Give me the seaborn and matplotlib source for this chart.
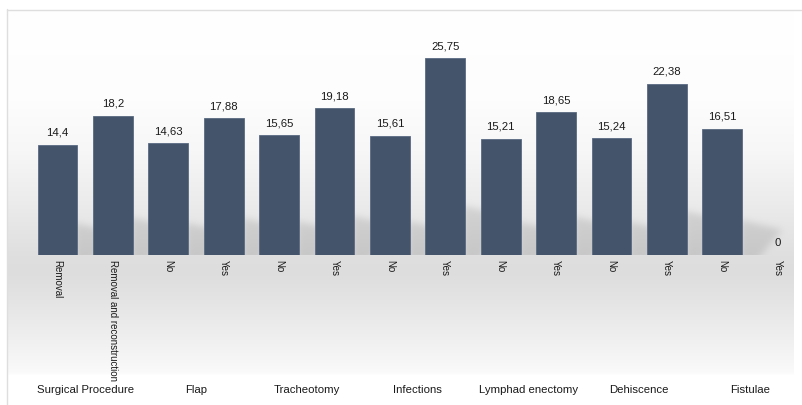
import numpy as np
import pandas as pd
import matplotlib
matplotlib.use("Agg")
import matplotlib.pyplot as plt
from matplotlib.path import Path
import seaborn as sns

groups = ["Surgical Procedure", "Flap", "Tracheotomy", "Infections",
          "Lymphad enectomy", "Dehiscence", "Fistulae"]
sub_labels = ["Removal", "Removal and reconstruction", "No", "Yes", "No", "Yes",
              "No", "Yes", "No", "Yes", "No", "Yes", "No", "Yes"]
values = [14.4, 18.2, 14.63, 17.88, 15.65, 19.18, 15.61, 25.75,
          15.21, 18.65, 15.24, 22.38, 16.51, 0]
value_text = ["14,4", "18,2", "14,63", "17,88", "15,65", "19,18", "15,61", "25,75",
              "15,21", "18,65", "15,24", "22,38", "16,51", "0"]

sns.set_theme(style="white")
plt.rcParams["font.family"] = ["Liberation Sans", "DejaVu Sans"]

W, H = 803, 405
fig = plt.figure(figsize=(W / 100, H / 100), dpi=100)
fig.patch.set_facecolor("white")

base_px = 150  # baseline from bottom
top_px = 396
ax = fig.add_axes([0, base_px / H, 1, (top_px - base_px) / H])
ax.set_zorder(2)
ax.patch.set_alpha(0)

keys = [f"{i:02d}" for i in range(len(values))]
df = pd.DataFrame({"key": keys, "value": values})
sns.barplot(data=df, x="key", y="value", color="#44546A", width=0.72,
            saturation=1, edgecolor="#5a6a82", linewidth=0.6, ax=ax)

slot = 55.4
ax.set_xlim(-57.5 / slot, (W - 57.5) / slot)
ax.set_ylim(0, (top_px - base_px) / 7.65)
for s in ax.spines.values():
    s.set_visible(False)
ax.set_yticks([])
ax.set_xlabel("")
ax.set_ylabel("")
ax.set_xticks(range(len(values)))
ax.set_xticklabels(sub_labels, rotation=-90, fontsize=7.0, color="#1a1a1a",
                   va="top", ha="center")
ax.tick_params(axis="x", length=0, pad=3.5)

for i, (v, t) in enumerate(zip(values, value_text)):
    ax.annotate(t, (i, v), xytext=(0, 5), textcoords="offset points",
                ha="center", va="bottom", fontsize=8.2, color="#1a1a1a")

for g, name in enumerate(groups):
    ax.text(2 * g + 0.5, -(390 - 255) / 7.65, name, ha="center", va="center",
            fontsize=8.2, color="#1a1a1a", clip_on=False)

# background gradient + shadows (pixel image)
rows = np.arange(H)
cp_y = [9, 100, 150, 200, 255, 272, 300, 340, 372, 375]
cp_v = [255, 253, 247, 236, 223, 221, 228, 240, 250, 255]
prof = np.interp(rows, cp_y, cp_v)
img = np.full((H, W), 255.0)
img[9:376, 7:794] = prof[9:376, None]

yy, xx = np.mgrid[0:H, 0:W]
pts = np.column_stack([xx.ravel() + 0.5, yy.ravel() + 0.5])
mask = np.zeros(H * W)
fig.canvas.draw()
rb = None
for i, v in enumerate(values):
    if v <= 0:
        continue
    xr, yb = ax.transData.transform((i + 0.36, 0))
    _, yt = ax.transData.transform((i + 0.36, v))
    rb = H - yb
    hpx = yt - yb
    sh = 0.2 * hpx + 10
    poly = Path([(xr - 2, rb + 6), (xr - 2, rb - sh), (xr + 40, rb - sh + 10),
                 (xr + 14, rb + 6), (xr - 2, rb + 6)])
    mask = np.maximum(mask, poly.contains_points(pts).astype(float))
mask = mask.reshape(H, W)
k = np.exp(-0.5 * (np.arange(-10, 11) / 3.5) ** 2)
k /= k.sum()
mask = np.apply_along_axis(lambda r: np.convolve(r, k, mode="same"), 1, mask)
mask = np.apply_along_axis(lambda c: np.convolve(c, k, mode="same"), 0, mask)
mask[int(round(rb)):, :] = 0
img = img - 24 * mask
img = np.clip(img, 0, 255) / 255.0
rgb = np.dstack([img, img, img])

bg = fig.add_axes([0, 0, 1, 1])
bg.set_zorder(0)
bg.imshow(rgb, extent=[0, W, H, 0], aspect="auto", interpolation="bilinear")
bg.plot([7, W], [9.5, 9.5], color="#dedede", lw=1)
bg.plot([7.5, 7.5], [9, H], color="#dedede", lw=1)
bg.set_xlim(0, W)
bg.set_ylim(H, 0)
bg.axis("off")

fig.savefig("out.png", dpi=100, facecolor="white")
